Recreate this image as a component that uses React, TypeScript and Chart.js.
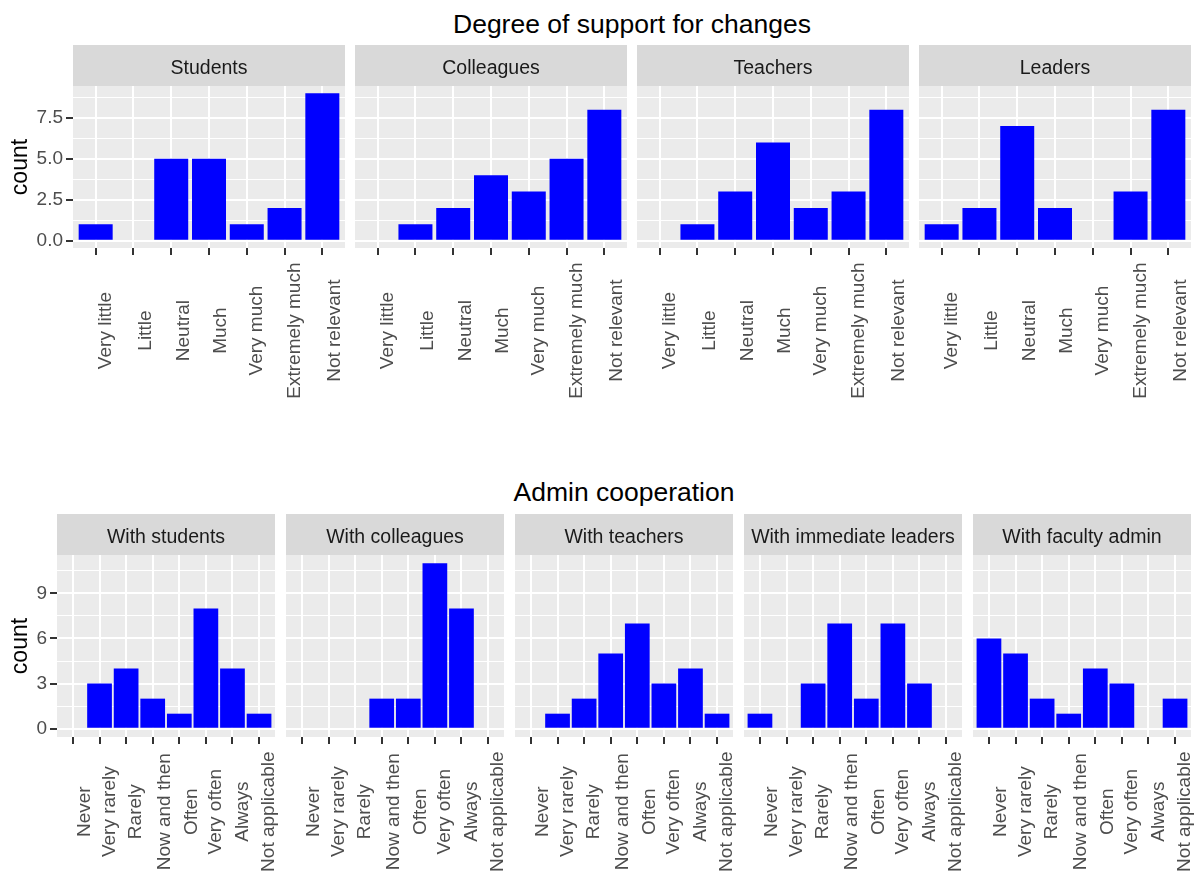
import React, { useEffect, useRef } from 'react';
import { Chart, registerables } from 'chart.js';

Chart.register(...registerables);

const FONT = '"Liberation Sans", Arial, Helvetica, sans-serif';

// ---------- Top block: Degree of support for changes ----------
const SUPPORT_TITLE = 'Degree of support for changes';
const SUPPORT_LEVELS = ['Very little', 'Little', 'Neutral', 'Much', 'Very much', 'Extremely much', 'Not relevant'];
const SUPPORT_FACETS = ['Students', 'Colleagues', 'Teachers', 'Leaders'];
const SUPPORT_STUDENTS = [1, 0, 5, 5, 1, 2, 9];
const SUPPORT_COLLEAGUES = [0, 1, 2, 4, 3, 5, 8];
const SUPPORT_TEACHERS = [0, 1, 3, 6, 2, 3, 8];
const SUPPORT_LEADERS = [1, 2, 7, 2, 0, 3, 8];
const SUPPORT_Y_BREAKS = [0, 2.5, 5, 7.5];
const SUPPORT_Y_LABELS = ['0.0', '2.5', '5.0', '7.5'];

// ---------- Bottom block: Admin cooperation ----------
const ADMIN_TITLE = 'Admin cooperation';
const ADMIN_LEVELS = ['Never', 'Very rarely', 'Rarely', 'Now and then', 'Often', 'Very often', 'Always', 'Not applicable'];
const ADMIN_FACETS = ['With students', 'With colleagues', 'With teachers', 'With immediate leaders', 'With faculty admin'];
const ADMIN_STUDENTS = [0, 3, 4, 2, 1, 8, 4, 1];
const ADMIN_COLLEAGUES = [0, 0, 0, 2, 2, 11, 8, 0];
const ADMIN_TEACHERS = [0, 1, 2, 5, 7, 3, 4, 1];
const ADMIN_LEADERS = [1, 0, 3, 7, 2, 7, 3, 0];
const ADMIN_FACULTY = [6, 5, 2, 1, 4, 3, 0, 2];
const ADMIN_Y_BREAKS = [0, 3, 6, 9];
const ADMIN_Y_LABELS = ['0', '3', '6', '9'];

const SUPPORT_SERIES = [SUPPORT_STUDENTS, SUPPORT_COLLEAGUES, SUPPORT_TEACHERS, SUPPORT_LEADERS];
const ADMIN_SERIES = [ADMIN_STUDENTS, ADMIN_COLLEAGUES, ADMIN_TEACHERS, ADMIN_LEADERS, ADMIN_FACULTY];

const TICK_LEN = 7;
const LABEL_GAP = 7.5;
const LABEL_SHIFT = 10.8;
const TICK_FONT_SIZE = 19;

type FacetProps = {
  title: string;
  levels: string[];
  values: number[];
  yBreaks: number[];
  yLabels: string[];
  yMax: number;
  showY: boolean;
  left: number;
  top: number;
  panelLeft: number;
  panelWidth: number;
  height: number;
  padBottom: number;
  padRight: number;
  barPct: number;
};

function Facet(p: FacetProps) {
  const ref = useRef<HTMLCanvasElement>(null);
  const width = p.panelLeft - p.left + p.panelWidth + p.padRight;

  useEffect(() => {
    const canvas = ref.current;
    if (!canvas) return;
    const n = p.levels.length;
    const lo = -0.05 * p.yMax;
    const hi = 1.05 * p.yMax;
    const minorStep = (p.yBreaks[1] - p.yBreaks[0]) / 2;
    const yTicks: number[] = [];
    for (let k = 0; k * minorStep <= hi + 1e-9; k++) yTicks.push(k * minorStep);
    const majorIndex = (v: number) => p.yBreaks.findIndex((b) => Math.abs(b - v) < 1e-6);
    const yAxisWidth = p.panelLeft - p.left;

    const decor = {
      id: 'facetDecor',
      beforeDraw(chart: any) {
        const { ctx, chartArea: a } = chart;
        ctx.save();
        ctx.fillStyle = '#EBEBEB';
        ctx.fillRect(a.left, a.top, a.right - a.left, a.bottom - a.top);
        const tb = chart.titleBlock;
        if (tb) {
          ctx.fillStyle = '#D9D9D9';
          ctx.fillRect(tb.left, tb.top, tb.width, tb.height);
        }
        ctx.restore();
      },
      afterDraw(chart: any) {
        const { ctx, chartArea: a } = chart;
        const xs = chart.scales.x;
        ctx.save();
        ctx.font = `${TICK_FONT_SIZE}px ${FONT}`;
        ctx.fillStyle = '#4D4D4D';
        const maxW = Math.max(...p.levels.map((l) => ctx.measureText(l).width));
        const cy = a.bottom + TICK_LEN + LABEL_GAP + maxW / 2;
        p.levels.forEach((lab, i) => {
          const px = xs.getPixelForValue(i + 1);
          const m = ctx.measureText(lab);
          const bx = px + LABEL_SHIFT + (m.actualBoundingBoxAscent - m.actualBoundingBoxDescent) / 2;
          ctx.save();
          ctx.translate(bx, cy);
          ctx.rotate(-Math.PI / 2);
          ctx.textAlign = 'center';
          ctx.textBaseline = 'alphabetic';
          ctx.fillText(lab, 0, 0);
          ctx.restore();
        });
        ctx.restore();
      },
    };

    const chart = new Chart(canvas, {
      type: 'bar',
      data: {
        datasets: [
          {
            data: p.values.map((v, i) => ({ x: i + 1, y: v })),
            backgroundColor: '#0000FF',
            borderWidth: 0,
            barPercentage: p.barPct,
            categoryPercentage: 1,
          },
        ],
      },
      options: {
        animation: false,
        responsive: false,
        devicePixelRatio: 1,
        layout: { padding: { top: 0, left: 0, right: p.padRight, bottom: p.padBottom } },
        plugins: {
          legend: { display: false },
          tooltip: { enabled: false },
          title: {
            display: true,
            text: p.title,
            fullSize: false,
            position: 'top',
            align: 'center',
            color: '#1A1A1A',
            font: { family: FONT, size: 19.5, weight: 'normal', lineHeight: '23px' },
            padding: { top: 12.2, bottom: 5.8 },
          },
        },
        scales: {
          x: {
            type: 'linear',
            min: 0.4,
            max: n + 0.6,
            offset: false,
            afterBuildTicks: (s: any) => {
              s.ticks = p.levels.map((_, i) => ({ value: i + 1 }));
            },
            border: { display: false },
            grid: {
              offset: false,
              color: '#FFFFFF',
              lineWidth: 2,
              drawTicks: true,
              tickLength: TICK_LEN,
              tickColor: '#333333',
              tickWidth: 2,
            },
            ticks: { display: false },
          },
          y: {
            type: 'linear',
            min: lo,
            max: hi,
            afterBuildTicks: (s: any) => {
              s.ticks = yTicks.map((v) => ({ value: v }));
            },
            afterFit: (s: any) => {
              s.width = p.showY ? yAxisWidth : 0;
            },
            border: { display: false },
            grid: {
              color: '#FFFFFF',
              lineWidth: (c: any) => (c.tick && majorIndex(c.tick.value) >= 0 ? 2 : 1),
              drawTicks: p.showY,
              tickLength: TICK_LEN,
              tickWidth: 2,
              tickColor: (c: any) => (c.tick && majorIndex(c.tick.value) >= 0 ? '#333333' : 'rgba(0,0,0,0)'),
            },
            ticks: {
              display: p.showY,
              autoSkip: false,
              padding: 3,
              color: '#4D4D4D',
              font: { family: FONT, size: TICK_FONT_SIZE },
              callback: (v: any) => {
                const i = majorIndex(Number(v));
                return i >= 0 ? p.yLabels[i] : '';
              },
            },
            title: {
              display: p.showY,
              text: 'count',
              color: '#000000',
              font: { family: FONT, size: 23 },
              padding: { top: 6.5, bottom: 0 },
            },
          },
        },
      } as any,
      plugins: [decor],
    });
    return () => chart.destroy();
  }, []);

  return (
    <canvas
      ref={ref}
      width={width}
      height={p.height}
      style={{ position: 'absolute', left: p.left, top: p.top, width, height: p.height }}
    />
  );
}

export default function App() {
  const supportMax = Math.max(...SUPPORT_SERIES.flat());
  const adminMax = Math.max(...ADMIN_SERIES.flat());

  return (
    <div
      style={{
        position: 'absolute',
        left: 0,
        top: 0,
        width: 1197,
        height: 877,
        background: '#FFFFFF',
        overflow: 'hidden',
        fontFamily: FONT,
      }}
    >
      <div
        style={{
          position: 'absolute',
          left: 73,
          width: 1118,
          top: 11,
          textAlign: 'center',
          fontSize: 26.5,
          lineHeight: '26.5px',
          color: '#000000',
          whiteSpace: 'nowrap',
        }}
      >
        {SUPPORT_TITLE}
      </div>
      {SUPPORT_FACETS.map((f, i) => {
        const panelLeft = 73 + i * 282;
        return (
          <Facet
            key={f}
            title={f}
            levels={SUPPORT_LEVELS}
            values={SUPPORT_SERIES[i]}
            yBreaks={SUPPORT_Y_BREAKS}
            yLabels={SUPPORT_Y_LABELS}
            yMax={supportMax}
            showY={i === 0}
            left={i === 0 ? 0 : panelLeft}
            top={45}
            panelLeft={panelLeft}
            panelWidth={272}
            height={360}
            padBottom={150}
            padRight={8}
            barPct={0.9}
          />
        );
      })}
      <div
        style={{
          position: 'absolute',
          left: 57,
          width: 1134,
          top: 479,
          textAlign: 'center',
          fontSize: 26.5,
          lineHeight: '26.5px',
          color: '#000000',
          whiteSpace: 'nowrap',
        }}
      >
        {ADMIN_TITLE}
      </div>
      {ADMIN_FACETS.map((f, i) => {
        const panelLeft = 57 + i * 229;
        return (
          <Facet
            key={f}
            title={f}
            levels={ADMIN_LEVELS}
            values={ADMIN_SERIES[i]}
            yBreaks={ADMIN_Y_BREAKS}
            yLabels={ADMIN_Y_LABELS}
            yMax={adminMax}
            showY={i === 0}
            left={i === 0 ? 0 : panelLeft}
            top={514}
            panelLeft={panelLeft}
            panelWidth={218}
            height={363}
            padBottom={133}
            padRight={10}
            barPct={0.93}
          />
        );
      })}
    </div>
  );
}
